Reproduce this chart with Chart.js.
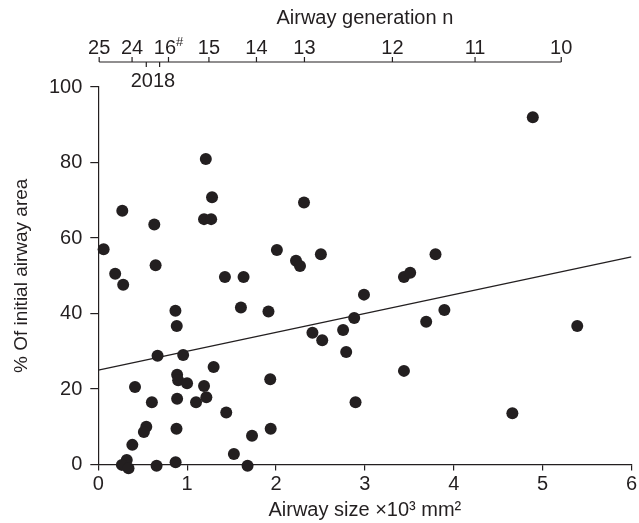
<!DOCTYPE html>
<html>
<head>
<meta charset="utf-8">
<script src="https://cdn.jsdelivr.net/npm/chart.js@4.4.1/dist/chart.umd.min.js"></script>
<style>
  html, body { margin: 0; padding: 0; background: #fff; }
</style>
</head>
<body>
<canvas id="chart" width="639" height="523"></canvas>
<script>
// airway size (x10^3 mm^2) and remaining area (% of initial) per airway
const sizeX = [
  0.06, 0.19, 0.27, 0.28, 0.63, 0.645, 1.21, 1.28, 1.19, 1.27,
  1.425, 1.635, 2.01, 0.868, 0.883, 0.667, 0.955, 0.887, 0.899, 0.999,
  0.413, 1.298, 1.19, 1.216, 1.10, 0.887, 0.603, 1.44, 0.54, 0.513,
  0.88, 0.383, 0.32, 0.265, 0.34, 0.656, 0.87, 1.526, 1.73, 1.68,
  1.94, 1.935, 1.605, 1.915, 2.315, 2.225, 2.27, 2.505, 3.795, 3.44,
  3.51, 2.99, 3.895, 3.69, 2.88, 2.41, 2.52, 2.755, 2.79, 3.44,
  2.895, 4.89, 5.39, 4.66
];
const areaY = [
  57.0, 50.5, 67.2, 47.6, 63.6, 52.8, 80.9, 70.8, 65.0, 65.0,
  49.7, 49.7, 56.8, 40.7, 36.7, 28.8, 29.0, 23.8, 22.3, 21.5,
  20.5, 25.8, 20.8, 17.8, 16.5, 17.4, 16.5, 13.8, 10.0, 8.6,
  9.5, 5.2, 1.2, -0.1, -1.0, -0.3, 0.6, 2.8, 7.6, -0.3,
  9.5, 22.6, 41.6, 40.5, 69.4, 54.0, 52.6, 55.7, 55.7, 49.7,
  50.8, 45.0, 40.9, 37.8, 38.8, 34.9, 32.9, 35.6, 29.8, 24.8,
  16.5, 92.0, 36.7, 13.6
];

// regression line end points
const fitX = [0, 6];
const fitY = [25, 55];

// airway generation scale along the top (positions in size units)
const genLabels = ['25', '24', '20', '18', '16', '15', '14', '13', '12', '11', '10'];
const genAt = [0.01, 0.38, 0.54, 0.69, 0.79, 1.245, 1.78, 2.32, 3.31, 4.24, 5.21];
const genLower = ['20', '18'];

const INK = '#231f20';
const FONT = '"Liberation Sans", Arial, sans-serif';
Chart.defaults.font.family = FONT;
Chart.defaults.color = INK;

// second x axis drawn by hand: one line, ticks up, two labels hanging below
const generationAxis = {
  id: 'generationAxis',
  afterDraw(chart) {
    const xs = chart.scales.x;
    const c = chart.ctx;
    const lineY = 62;
    const px = genAt.map(v => xs.getPixelForValue(v));
    c.save();
    c.strokeStyle = INK;
    c.fillStyle = INK;
    c.lineWidth = 1.2;
    c.beginPath();
    c.moveTo(px[0], lineY);
    c.lineTo(px[px.length - 1], lineY);
    genLabels.forEach((lab, i) => {
      const down = genLower.includes(lab);
      c.moveTo(px[i], lineY);
      c.lineTo(px[i], down ? lineY + 5 : lineY - 5);
    });
    c.stroke();

    c.font = '20px ' + FONT;
    c.textBaseline = 'alphabetic';
    const i20 = genLabels.indexOf('20');
    const i18 = genLabels.indexOf('18');
    const mid = (px[i20] + px[i18]) / 2;
    genLabels.forEach((lab, i) => {
      if (lab === '20') {
        c.textAlign = 'right';
        c.fillText(lab, mid, 87);
      } else if (lab === '18') {
        c.textAlign = 'left';
        c.fillText(lab, mid, 87);
      } else if (lab === '16') {
        c.font = '20px ' + FONT;
        const w = c.measureText(lab).width;
        c.font = '13px ' + FONT;
        const w2 = c.measureText('#').width;
        const start = px[i] - (w + w2) / 2;
        c.textAlign = 'left';
        c.fillText('#', start + w, 46);
        c.font = '20px ' + FONT;
        c.fillText(lab, start, 53.5);
      } else {
        c.textAlign = 'center';
        c.fillText(lab, px[i], 53.5);
      }
    });

    const ca = chart.chartArea;
    c.textAlign = 'center';
    c.font = '20px ' + FONT;
    c.fillText('Airway generation n', (ca.left + ca.right) / 2, 24);
    c.restore();
  }
};

new Chart(document.getElementById('chart'), {
  type: 'scatter',
  data: {
    datasets: [
      {
        data: sizeX.map((x, i) => ({ x: x, y: areaY[i] })),
        backgroundColor: INK,
        borderColor: INK,
        borderWidth: 0,
        pointRadius: 6,
        clip: false
      },
      {
        type: 'line',
        data: fitX.map((x, i) => ({ x: x, y: fitY[i] })),
        borderColor: INK,
        borderWidth: 1.3,
        pointRadius: 0,
        fill: false
      }
    ]
  },
  options: {
    responsive: false,
    animation: false,
    layout: { padding: { top: 87, right: 5, left: 0, bottom: 0 } },
    plugins: {
      legend: { display: false },
      tooltip: { enabled: false }
    },
    scales: {
      x: {
        type: 'linear',
        min: 0,
        max: 6,
        afterFit(scale) { scale.height = 58.5; },
        ticks: { stepSize: 1, padding: 2, color: INK, font: { size: 20 } },
        grid: { drawOnChartArea: false, tickLength: 6, color: INK, lineWidth: 1.2 },
        border: { color: INK, width: 1.2 },
        title: {
          display: true,
          text: 'Airway size ×10³ mm²',
          color: INK,
          font: { size: 20 },
          padding: { top: 0, bottom: 1 }
        }
      },
      y: {
        min: 0,
        max: 100,
        afterFit(scale) { scale.width = 98.3; },
        ticks: { stepSize: 20, padding: 8, color: INK, font: { size: 20 } },
        grid: { drawOnChartArea: false, tickLength: 8, color: INK, lineWidth: 1.2 },
        border: { color: INK, width: 1.2 },
        title: {
          display: true,
          text: '% Of initial airway area',
          color: INK,
          font: { size: 19 },
          padding: { top: 10, bottom: 0 }
        }
      }
    }
  },
  plugins: [generationAxis]
});
</script>
</body>
</html>
